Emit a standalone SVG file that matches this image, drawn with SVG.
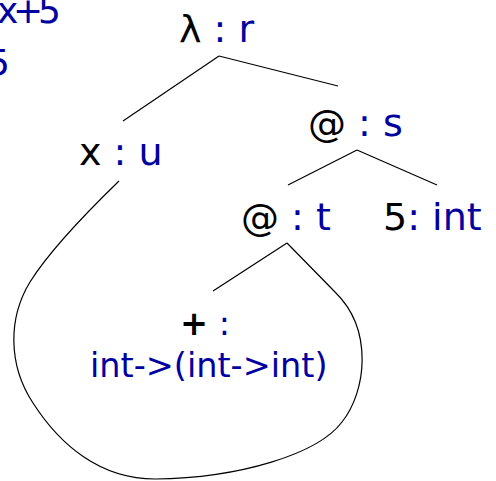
<svg xmlns="http://www.w3.org/2000/svg" width="496" height="481" viewBox="0 0 496 481">
<style>
text{font-family:"DejaVu Sans",sans-serif;fill:#000}
.n{font-size:38px}
.m{font-size:33.5px}
.t{font-size:36px}
.b{fill:#0000a0}
.e{stroke:#000;stroke-width:1.2;fill:none}
</style>
<rect width="496" height="481" fill="#fff"/>
<g id="expr">
<text class="t b" x="-3" y="23" textLength="64" lengthAdjust="spacing">x+5</text>
<text class="t b" x="-13" y="75">5</text>
</g>
<g id="connectors">
<line class="e" x1="219" y1="56" x2="123" y2="121"/>
<line class="e" x1="219" y1="56" x2="338" y2="86"/>
<line class="e" x1="357" y1="150" x2="288" y2="185"/>
<line class="e" x1="357" y1="150" x2="437" y2="185"/>
<line class="e" x1="287" y1="243" x2="213" y2="291"/>
<path class="e" d="M119 181 C 85 214 50 250 30 282 C 8 318 8 365 33 403 C 60 445 100 479 155 479 C 240 478 318 454 342 422 C 366 392 374 330 335 292 L 287 243"/>
</g>
<g id="n-lambda"><text class="n" x="179" y="42">λ<tspan class="b"> : r</tspan></text></g>
<g id="n-x"><text class="n" x="79" y="165">x<tspan class="b"> : u</tspan></text></g>
<g id="n-app-s"><text class="n" x="308" y="136">@<tspan class="b"> : s</tspan></text></g>
<g id="n-app-t"><text class="n" x="241" y="230">@<tspan class="b"> : t</tspan></text></g>
<g id="n-5"><text class="n" x="383" y="230">5<tspan class="b">: int</tspan></text></g>
<g id="n-plus">
<text class="m" x="180" y="335"><tspan font-weight="bold">+</tspan><tspan class="b"> :</tspan></text>
<text class="m b" x="90" y="377">int-&gt;(int-&gt;int)</text>
</g>
</svg>
